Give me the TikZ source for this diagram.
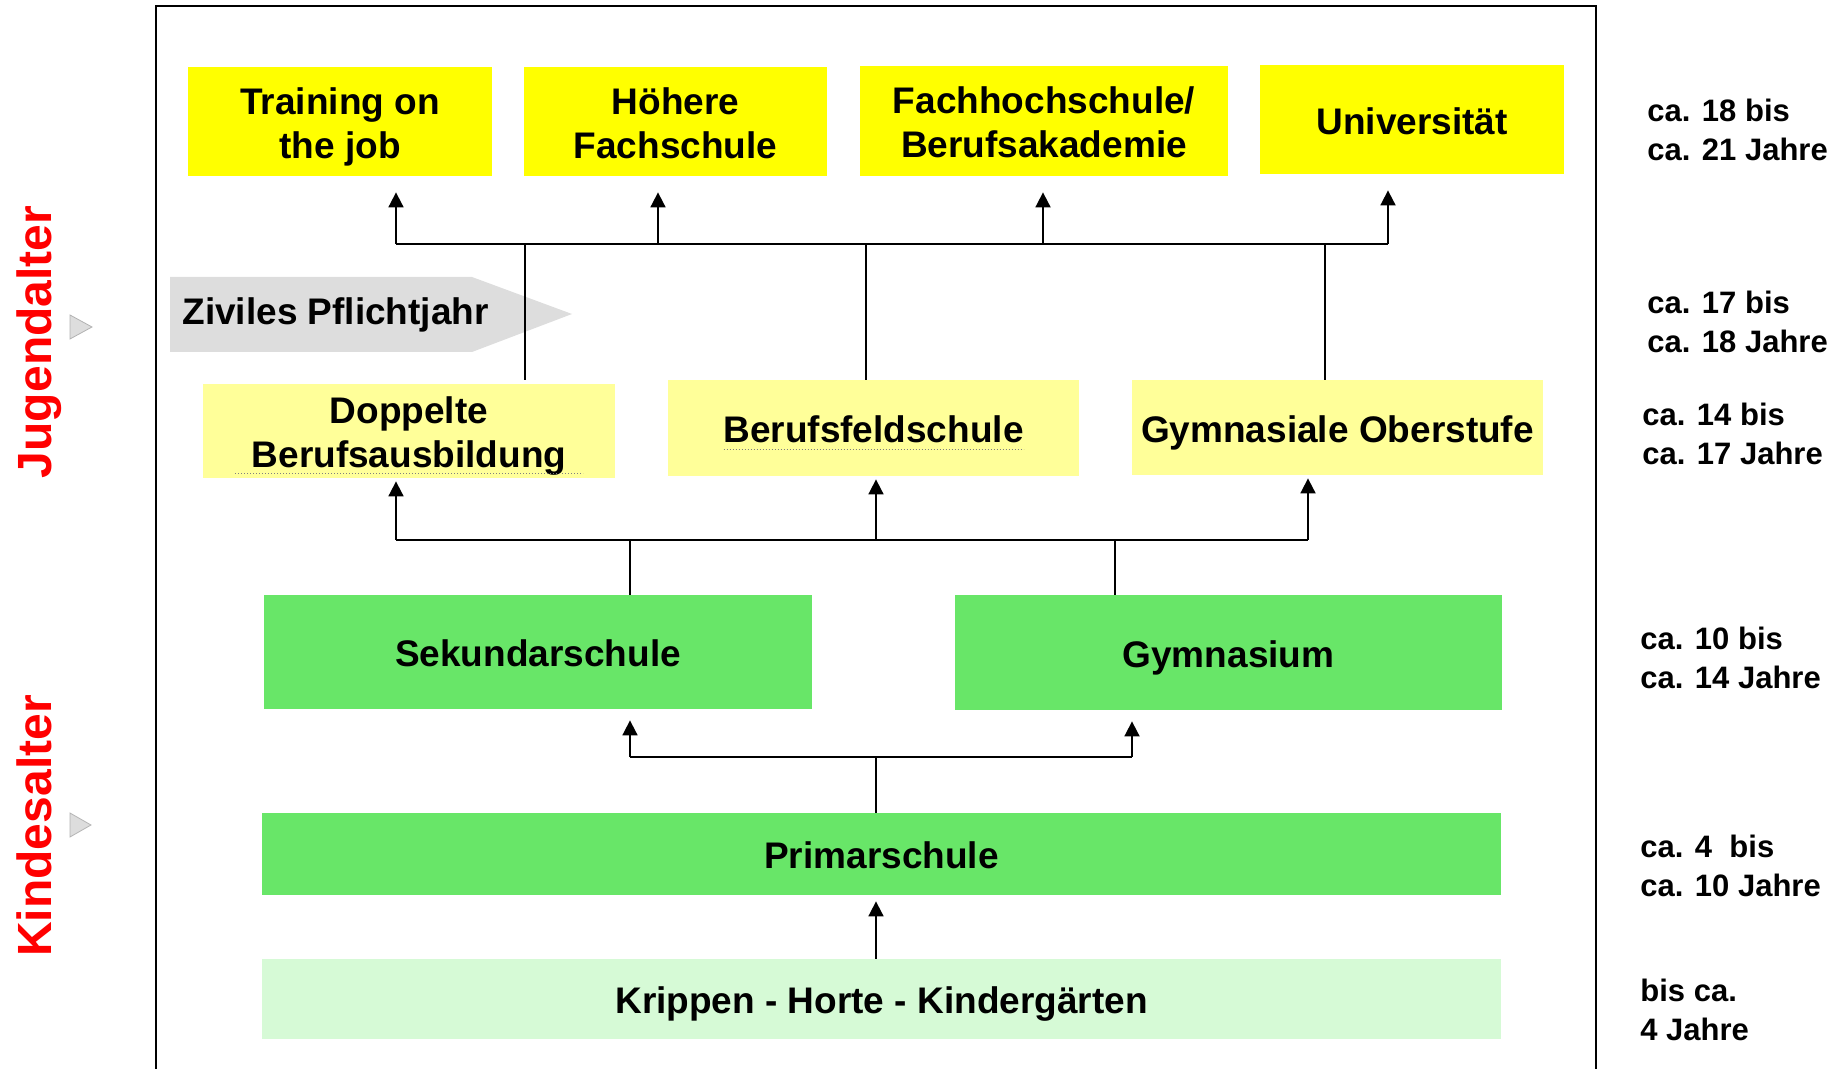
\documentclass[tikz,border=0pt]{standalone}
\usepackage{fontspec}
\setmainfont{Liberation Sans}
\usetikzlibrary{arrows.meta}
\definecolor{gelb}{RGB}{255,255,0}
\definecolor{hellgelb}{RGB}{255,255,153}
\definecolor{gruen}{RGB}{104,230,104}
\definecolor{hellgruen}{RGB}{214,250,214}
\definecolor{grau}{RGB}{221,221,221}
\definecolor{rot}{RGB}{255,0,0}
% Zeilenstuetze wie in der Vorlage (Ober-/Unterlaenge)
\newcommand{\zst}{\rule[-3.9pt]{0pt}{22.6pt}}
\setlength{\lineskiplimit}{-20pt}
\tikzset{
  kasten/.style={inner sep=0pt, align=center, font=\fontsize{18.5}{22}\selectfont\bfseries},
  linie/.style={line width=0.9pt},
  pfeil/.style={linie, -{Triangle[length=7.5pt,width=7.5pt]}},
  alter/.style={anchor=west, inner sep=0pt, align=left, font=\fontsize{15.5}{19.5}\selectfont\bfseries},
  seite/.style={rotate=90, anchor=base, inner sep=0pt, text=rot, font=\fontsize{24}{28}\selectfont\bfseries},
  punktiert/.style={gray, line width=0.6pt, dash pattern=on 0.6pt off 0.9pt}
}
\begin{document}
\begin{tikzpicture}[x=0.5pt,y=-0.5pt]
		\useasboundingbox (0,0) rectangle (1843,1069);
		% Rahmen
		\draw[line width=1.2pt] (156,1080) -- (156,6) -- (1596,6) -- (1596,1080);
		% Altersstufen links
		\node[seite] (jugend) at (51,342) {Jugendalter};
		\node[seite] (kind) at (51,826) {Kindesalter};
		\filldraw[fill=grau, draw=gray!60] (70,315) -- (92,327) -- (70,339) -- cycle;
		\filldraw[fill=grau, draw=gray!60] (70,813) -- (91,825) -- (70,837) -- cycle;
		% obere Reihe
		\node[kasten, fill=gelb, minimum width=152pt, minimum height=54.5pt] (train) at (340,121.5) {\zst Training on\\\zst the job};
		\node[kasten, fill=gelb, minimum width=151.5pt, minimum height=54.5pt] (hoeher) at (675.5,121.5) {\zst Höhere\\\zst Fachschule};
		\node[kasten, fill=gelb, minimum width=184pt, minimum height=55pt] (fhs) at (1044,121) {\zst Fachhochschule/\\\zst Berufsakademie};
		\node[kasten, fill=gelb, minimum width=152pt, minimum height=54.5pt] (uni) at (1412,119.5) {\zst Universität};
		% Pflichtjahr
		\fill[grau] (170,277) -- (472,277) -- (572,314) -- (472,352) -- (170,352) -- cycle;
		\node[kasten, anchor=base west] (zivil) at (182,325) {Ziviles Pflichtjahr};
		% mittlere Reihe
		\node[kasten, fill=hellgelb, minimum width=206pt, minimum height=47pt] (dba) at (409,431) {\zst Doppelte\\\zst Berufsausbildung};
		\node[kasten, fill=hellgelb, minimum width=205.5pt, minimum height=48pt] (bfs) at (873.5,428) {\zst Berufsfeldschule};
		\node[kasten, fill=hellgelb, minimum width=205.5pt, minimum height=47.5pt] (gymo) at (1337.5,427.5) {\zst Gymnasiale Oberstufe};
		\draw[punktiert] ([xshift=-87pt,yshift=2.5pt]dba.south) -- ([xshift=87pt,yshift=2.5pt]dba.south);
		\draw[punktiert] ([xshift=-75pt,yshift=13.5pt]bfs.south) -- ([xshift=75pt,yshift=13.5pt]bfs.south);
		% untere Reihen
		\node[kasten, fill=gruen, minimum width=274pt, minimum height=57pt] (sek) at (538,652) {\zst Sekundarschule};
		\node[kasten, fill=gruen, minimum width=273.5pt, minimum height=57.5pt] (gym) at (1228.5,652.5) {\zst Gymnasium};
		\node[kasten, fill=gruen, minimum width=619.5pt, minimum height=41pt] (prim) at (881.5,854) {\zst Primarschule};
		\node[kasten, fill=hellgruen, minimum width=619.5pt, minimum height=40pt] (krip) at (881.5,999) {\zst Krippen - Horte - Kindergärten};
		% Verbindungen oben
		\coordinate (o1) at (396,244);
		\coordinate (o2) at (658,244);
		\coordinate (o3) at (1043,244);
		\coordinate (o4) at (1388,244);
		\draw[linie] (o1) -- (o4);
		\foreach \z/\k in {o1/train,o2/hoeher,o3/fhs,o4/uni}
			\draw[pfeil, shorten >=8pt] (\z) -- (\z |- \k.south);
		\coordinate (v1) at (525,244);
		\coordinate (v2) at (866,244);
		\coordinate (v3) at (1325,244);
		\draw[linie] (v1) -- ([yshift=2pt]v1 |- dba.north);
		\draw[linie] (v2) -- (v2 |- bfs.north);
		\draw[linie] (v3) -- (v3 |- gymo.north);
		% Verbindungen Mitte
		\coordinate (m1) at (396,540);
		\coordinate (m2) at (876,540);
		\coordinate (m3) at (1308,540);
		\draw[linie] (m1) -- (m3);
		\foreach \z/\k in {m1/dba,m2/bfs,m3/gymo}
			\draw[pfeil, shorten >=1.5pt] (\z) -- (\z |- \k.south);
		\coordinate (w1) at (630,540);
		\coordinate (w2) at (1115,540);
		\draw[linie] (w1) -- (w1 |- sek.north);
		\draw[linie] (w2) -- (w2 |- gym.north);
		% Verbindungen unten
		\coordinate (u1) at (630,757);
		\coordinate (u2) at (1132,757);
		\coordinate (u3) at (876,757);
		\draw[linie] (u1) -- (u2);
		\foreach \z/\k in {u1/sek,u2/gym}
			\draw[pfeil, shorten >=5.5pt] (\z) -- (\z |- \k.south);
		\draw[linie] (u3) -- (u3 |- prim.north);
		\coordinate (k1) at (876,959);
		\draw[pfeil, shorten >=3pt] (k1 |- krip.north) -- (k1 |- prim.south);
		% Alter rechts
		\node[alter] (alter1) at (1647,130) {ca. 18 bis\\ca. 21 Jahre};
		\node[alter] (alter2) at (1647,321.5) {ca. 17 bis\\ca. 18 Jahre};
		\node[alter] (alter3) at (1642,434) {ca. 14 bis\\ca. 17 Jahre};
		\node[alter] (alter4) at (1640,657.5) {ca. 10 bis\\ca. 14 Jahre};
		\node[alter] (alter5) at (1640,865.5) {ca. 4\ \ bis\\ca. 10 Jahre};
		\node[alter] (alter6) at (1640,1010) {bis ca.\\4 Jahre};
	\end{tikzpicture}
\end{document}
